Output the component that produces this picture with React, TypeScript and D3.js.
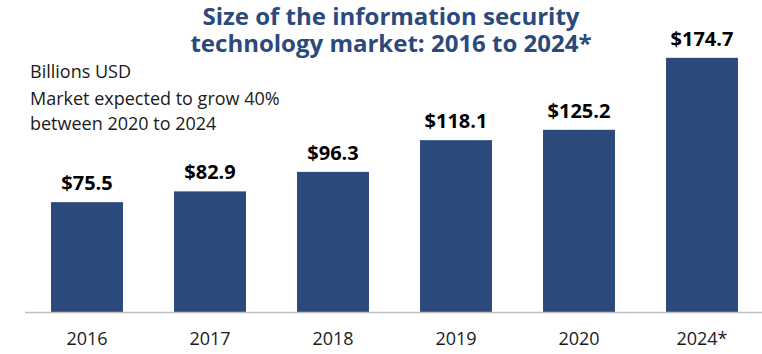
import React, { useEffect, useRef } from "react";
import * as d3 from "d3";

const years = ["2016", "2017", "2018", "2019", "2020", "2024*"];
const marketSize = [75.5, 82.9, 96.3, 118.1, 125.2, 174.7];
const titleLines = ["Size of the information security", "technology market: 2016 to 2024*"];
const noteLines = ["Billions USD", "Market expected to grow 40%", "between 2020 to 2024"];

const W = 762;
const H = 354;
const FONT = "'Open Sans', sans-serif";

const App = () => {
  const svgRef = useRef<SVGSVGElement>(null);

  useEffect(() => {
    const svg = d3.select(svgRef.current);
    svg.selectAll("*").remove();

    const baseY = 312;
    const x = d3.scaleBand<string>().domain(years).range([25.5, 763.5]).paddingInner(0.415).paddingOuter(0.2075);
    const y = d3.scaleLinear([0, 200], [baseY, 21]);

    // bars
    svg
      .append("g")
      .selectAll("rect")
      .data(marketSize)
      .join("rect")
      .attr("x", (d, i) => x(years[i])!)
      .attr("y", (d) => y(d))
      .attr("width", x.bandwidth())
      .attr("height", (d) => baseY - y(d))
      .attr("fill", "#2b4a7b");

    // value labels
    svg
      .append("g")
      .selectAll("text")
      .data(marketSize)
      .join("text")
      .attr("x", (d, i) => x(years[i])! + x.bandwidth() / 2)
      .attr("y", (d) => y(d) - 12)
      .attr("text-anchor", "middle")
      .style("font-family", FONT)
      .style("font-weight", "bold")
      .style("font-size", "20px")
      .attr("fill", "#000")
      .text((d) => "$" + d.toFixed(1));

    // baseline axis
    const axis = svg
      .append("g")
      .attr("transform", `translate(0,${baseY})`)
      .call(d3.axisBottom(x).tickSize(0).tickPadding(20));
    axis.select(".domain").attr("d", `M25,0.5H762`).attr("stroke", "#bfbfbf").attr("stroke-width", 1.5);
    axis
      .selectAll("text")
      .style("font-family", FONT)
      .style("font-size", "18px")
      .attr("fill", "#1a1a1a");

    // title
    svg
      .append("text")
      .attr("text-anchor", "middle")
      .style("font-family", FONT)
      .style("font-weight", "bold")
      .style("font-size", "24px")
      .attr("fill", "#2b4a7b")
      .selectAll("tspan")
      .data(titleLines)
      .join("tspan")
      .attr("x", 391)
      .attr("y", (d, i) => 25 + i * 27)
      .text((d) => d);

    // notes
    const noteY = [78, 105, 130];
    svg
      .append("text")
      .style("font-family", FONT)
      .style("font-size", "18px")
      .attr("fill", "#1a1a1a")
      .selectAll("tspan")
      .data(noteLines)
      .join("tspan")
      .attr("x", 30)
      .attr("y", (d, i) => noteY[i])
      .text((d) => d);
  }, []);

  return (
    <svg
      ref={svgRef}
      width={W}
      height={H}
      style={{ position: "absolute", left: 0, top: 0, background: "#fff" }}
    ></svg>
  );
};

export default App;
